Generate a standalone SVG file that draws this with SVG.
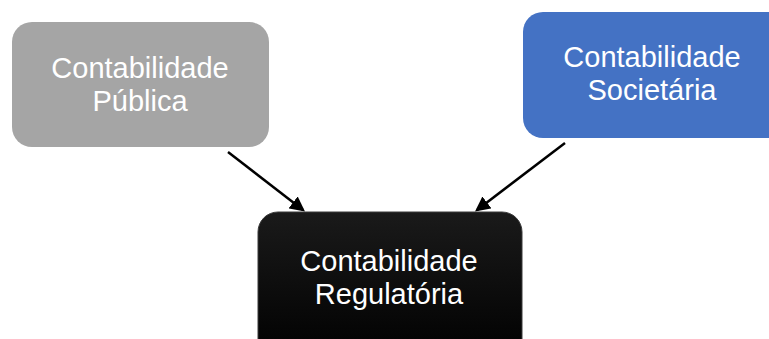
<svg xmlns="http://www.w3.org/2000/svg" width="769" height="339" viewBox="0 0 769 339">
<style>
.t{font-family:"Liberation Sans",Arial,sans-serif;font-size:29px;fill:#ffffff;text-anchor:middle}
.c{stroke:#000;stroke-width:2.5;fill:none;marker-end:url(#ah)}
</style>
<defs>
<marker id="ah" markerWidth="6" markerHeight="6" refX="5" refY="3" orient="auto" markerUnits="strokeWidth">
<path d="M0,0 L6,3 L0,6 z" fill="#000"/>
</marker>
<linearGradient id="bg" x1="0" y1="0" x2="0" y2="1">
<stop offset="0" stop-color="#1a1a1a"/>
<stop offset="1" stop-color="#000"/>
</linearGradient>
</defs>
<rect width="769" height="339" fill="#fff"/>
<g id="connectors">
<line class="c" x1="228" y1="152" x2="303" y2="210"/>
<line class="c" x1="565" y1="143" x2="477" y2="210"/>
</g>
<g id="publica">
<rect x="12" y="22" width="257" height="125" rx="20" fill="#a5a5a5"/>
<text class="t" x="140" y="78" fill="#f2f2f2">Contabilidade</text>
<text class="t" x="140" y="111">Pública</text>
</g>
<g id="societaria">
<rect x="523" y="12" width="270" height="126" rx="20" fill="#4472c4"/>
<text class="t" x="652" y="67">Contabilidade</text>
<text class="t" x="652" y="100">Societária</text>
</g>
<g id="regulatoria">
<rect x="258" y="212" width="264" height="150" rx="20" fill="url(#bg)" stroke="#3a3a3a" stroke-width="1"/>
<text class="t" x="389" y="271">Contabilidade</text>
<text class="t" x="389" y="304">Regulatória</text>
</g>
</svg>
